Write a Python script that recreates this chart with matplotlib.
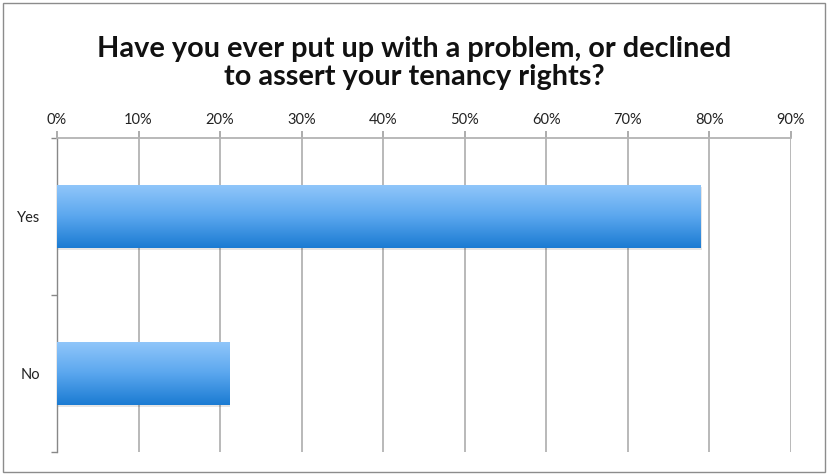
import numpy as np
import matplotlib
matplotlib.use('Agg')
import matplotlib.pyplot as plt
from matplotlib.colors import LinearSegmentedColormap
from matplotlib.ticker import FuncFormatter

# data
categories = ['Yes', 'No']
values = [78.9, 21.1]
x_ticks = [0, 10, 20, 30, 40, 50, 60, 70, 80, 90]
title = 'Have you ever put up with a problem, or declined\nto assert your tenancy rights?'

plt.rcParams['font.family'] = ['Lato', 'DejaVu Sans']

fig = plt.figure(figsize=(8.28, 4.75), dpi=100)
fig.patch.set_facecolor('white')

# outer chart border
border = plt.Rectangle((0.004, 0.006), 0.992, 0.988, transform=fig.transFigure,
                       fill=False, edgecolor='#8c8c8c', linewidth=1.0)
fig.add_artist(border)

ax = fig.add_axes([0.0688, 0.0484, 0.8865, 0.6611])

y = np.arange(len(categories))
bars = ax.barh(y, values, height=0.4, color='none', edgecolor='none', zorder=3)

# gradient fill per bar, light on top to darker at bottom
grad_cmap = LinearSegmentedColormap.from_list('bluegrad', ['#90c6fa', '#5aa6ee', '#1b7bd2'])
grad = np.linspace(0, 1, 256).reshape(-1, 1)
for b in bars:
    x0, y0 = b.get_x(), b.get_y()
    w, h = b.get_width(), b.get_height()
    # soft shadow
    ax.add_patch(plt.Rectangle((x0 + 0.15, y0 + 0.015), w, h, facecolor='#000000',
                               alpha=0.10, edgecolor='none', zorder=2))
    ax.imshow(grad, cmap=grad_cmap, aspect='auto', origin='upper',
              extent=(x0, x0 + w, y0 + h, y0), zorder=3, interpolation='bilinear')

ax.set_xlim(0, 90)
ax.set_ylim(len(categories) - 0.5, -0.5)

ax.xaxis.tick_top()
ax.set_xticks(x_ticks)
ax.xaxis.set_major_formatter(FuncFormatter(lambda v, p: f'{int(v)}%'))
ax.tick_params(axis='x', length=5, color='#a6a6a6', width=1.3, labelsize=10.5,
               labelcolor='#222222', pad=3)
ax.grid(axis='x', color='#b3b3b3', linewidth=1.3, zorder=0)

ax.set_yticks(np.arange(len(categories) + 1) - 0.5)
ax.set_yticklabels([])
ax.set_yticks(y, minor=True)
ax.set_yticklabels(categories, minor=True)
ax.tick_params(axis='y', which='major', length=4, color='#888888', width=1.0)
ax.tick_params(axis='y', which='minor', length=0, labelsize=10.5, labelcolor='#222222', pad=12)

for side in ['right', 'bottom']:
    ax.spines[side].set_visible(False)
ax.spines['top'].set_color('#b3b3b3')
ax.spines['top'].set_linewidth(1.3)
ax.spines['left'].set_color('#888888')
ax.spines['left'].set_linewidth(1.0)

fig.text(0.5, 0.867, title, ha='center', va='center', fontsize=20.8,
         fontweight='bold', color='#111111', linespacing=1.12)

fig.savefig('out.png', dpi=100)
